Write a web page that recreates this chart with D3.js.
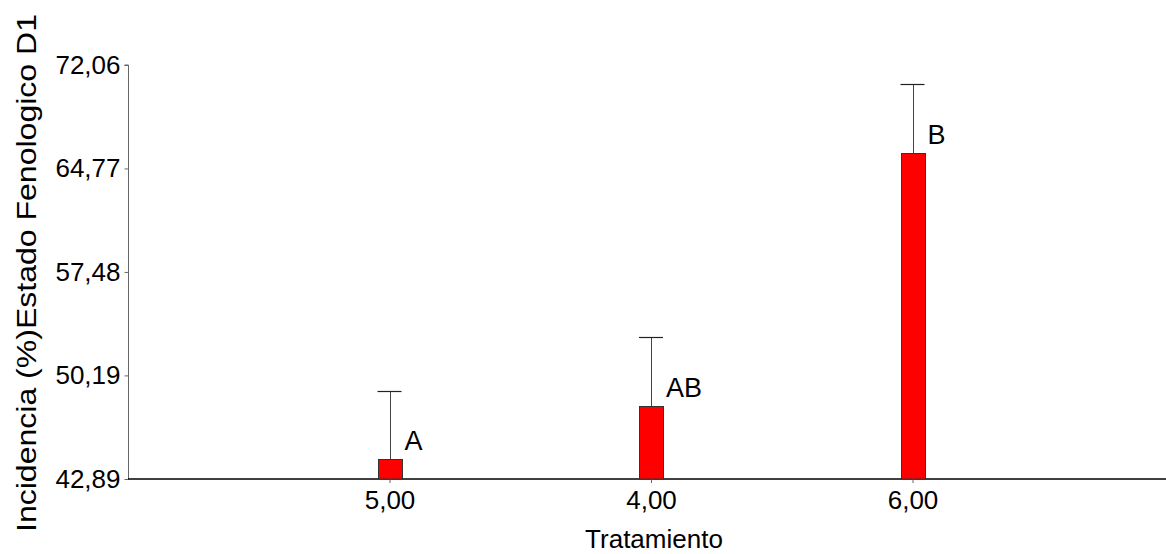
<!DOCTYPE html>
<html>
<head>
<meta charset="utf-8">
<script src="https://cdn.jsdelivr.net/npm/d3@7"></script>
<style>
  html, body { margin: 0; padding: 0; background: #fff; }
  text { font-family: "Liberation Sans", Arial, sans-serif; fill: #000; }
</style>
</head>
<body>
<svg id="chart" width="1166" height="554"></svg>
<script>
const categories = ["5,00", "4,00", "6,00"];
const means = [44.30, 48.03, 65.86];
const errorTops = [49.09, 52.90, 70.72];
const letters = ["A", "AB", "B"];
const yTicks = [42.89, 50.19, 57.48, 64.77, 72.06];
const yTitle = "Incidencia (%)Estado Fenologico D1";
const xTitle = "Tratamiento";

const svg = d3.select("#chart");
const plotLeft = 128, plotBottom = 479, plotTop = 65;

const x = d3.scalePoint().domain(categories).range([plotLeft, 1174]).padding(1);
const y = d3.scaleLinear().domain([42.89, 72.06]).range([plotBottom, plotTop]);
const fmt = v => v.toFixed(2).replace(".", ",");
const bw = 24;

// Y axis
const yAxis = d3.axisLeft(y).tickValues(yTicks).tickSize(4).tickPadding(4).tickFormat(fmt);
const gy = svg.append("g").attr("transform", `translate(${plotLeft + 0.5},0)`).call(yAxis);
gy.select(".domain").attr("stroke", "#666").attr("d", `M-4,${y(72.06)}H0V${plotBottom}`);
gy.selectAll(".tick line").attr("stroke", "#666");
gy.selectAll(".tick text").attr("font-size", 26).attr("font-family", "Liberation Sans, Arial, sans-serif").attr("fill", "#000");

// X axis
const xAxis = d3.axisBottom(x).tickSize(4).tickPadding(8);
const gx = svg.append("g").attr("transform", `translate(0,${plotBottom})`).call(xAxis);
gx.select(".domain").attr("stroke", "#000").attr("stroke-width", 1.5).attr("d", `M${plotLeft},0H1166`);
gx.selectAll(".tick line").attr("stroke", "#666");
gx.selectAll(".tick text").attr("font-size", 26).attr("font-family", "Liberation Sans, Arial, sans-serif").attr("fill", "#000");

// Error bars
const eb = svg.append("g");
categories.forEach((c, i) => {
  const cx = Math.round(x(c)) + 0.5;
  const ey = Math.round(y(errorTops[i])) + 0.5;
  eb.append("line").attr("x1", cx).attr("x2", cx)
    .attr("y1", y(means[i])).attr("y2", ey)
    .attr("stroke", "#444").attr("stroke-width", 1);
  eb.append("line").attr("x1", x(c) - bw / 2).attr("x2", x(c) + bw / 2)
    .attr("y1", ey).attr("y2", ey)
    .attr("stroke", "#222").attr("stroke-width", 1.2);
});

// Bars
svg.append("g").selectAll("rect").data(categories).join("rect")
  .attr("x", d => Math.round(x(d) - bw / 2) + 0.5)
  .attr("y", (d, i) => Math.round(y(means[i])) + 0.5)
  .attr("width", bw)
  .attr("height", (d, i) => plotBottom - Math.round(y(means[i])) - 0.5)
  .attr("fill", "#ff0000")
  .attr("stroke", "#333")
  .attr("stroke-width", 1);

// Letters
svg.append("g").selectAll("text").data(categories).join("text")
  .attr("x", d => x(d) + bw / 2 + 3)
  .attr("y", (d, i) => y(means[i]) - 9)
  .attr("font-size", 27)
  .text((d, i) => letters[i]);

// Axis titles
svg.append("text")
  .attr("transform", `translate(36,273) rotate(-90)`)
  .attr("text-anchor", "middle")
  .attr("font-size", 28)
  .attr("textLength", 518)
  .attr("lengthAdjust", "spacingAndGlyphs")
  .text(yTitle);

svg.append("text")
  .attr("x", 654).attr("y", 548)
  .attr("text-anchor", "middle")
  .attr("font-size", 26)
  .text(xTitle);
</script>
</body>
</html>
